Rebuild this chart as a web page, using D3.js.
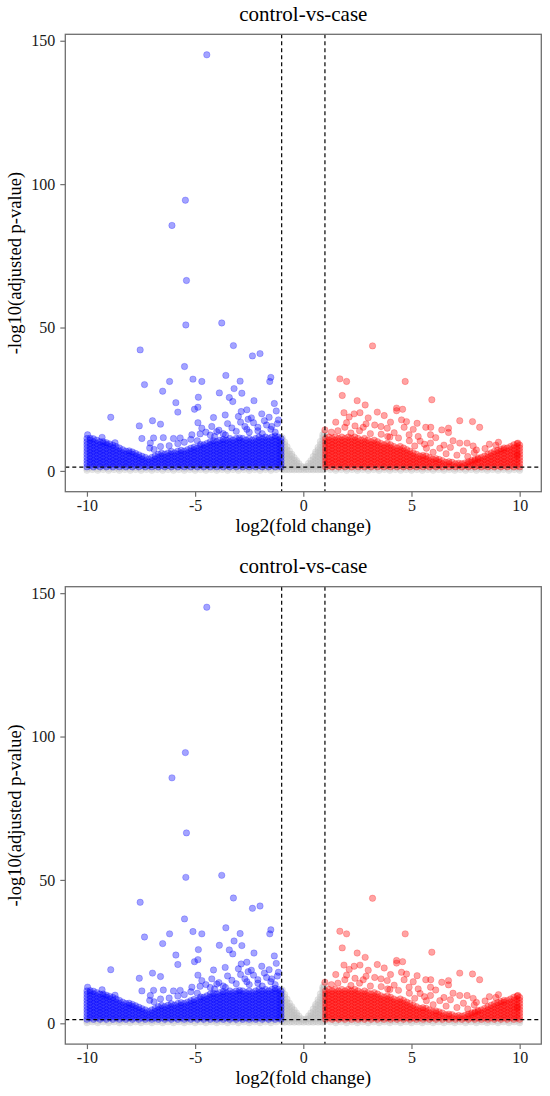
<!DOCTYPE html>
<html>
<head>
<meta charset="utf-8">
<script src="https://cdn.jsdelivr.net/npm/d3@7/dist/d3.min.js"></script>
<style>
  body { margin: 0; background: #fff; }
  svg text { font-family: "Liberation Serif", "Times New Roman", "DejaVu Serif", serif; }
</style>
</head>
<body>
<div id="chart"></div>
<script>
// text + ticks
var plotTitle = "control-vs-case";
var xTitle = "log2(fold change)";
var yTitle = "-log10(adjusted p-value)";
var xTicks = [-10, -5, 0, 5, 10];
var yTicks = [0, 50, 100, 150];
var fcCut = [-1, 1];
var padjCut = 1.3;

var serifFont = "'Liberation Serif', 'Times New Roman', 'DejaVu Serif', serif";

// single points (log2FC, -log10 padj)
var downPoints = [
  [-4.46,145.1],[-5.45,94.4],[-6.07,85.6],[-5.40,66.4],[-5.43,50.9],[-3.77,51.6],[-3.23,43.7],
  [-7.54,42.2],[-2.35,40.1],[-2.0,40.9],[-5.49,36.4],[-7.34,30.1],[-6.18,31.2],[-5.1,32.0],
  [-4.69,31.2],[-3.58,33.3],[-2.92,31.3],[-1.5,32.6],[-1.55,31.2],[-6.5,27.8],[-3.88,27.2],
  [-3.2,28.7],[-2.84,27.1],[-4.85,25.7],[-5.89,23.8],[-5.03,21.5],[-4.87,22.2],[-5.8,20.5],
  [-2.28,24.5],[-3.42,25.6],[-3.26,24.2],[-1.34,23.5],[-1.25,20.9],[-8.9,18.7],[-7.58,15.7],
  [-6.97,17.5],[-6.6,16.3],[-4.87,16.8],[-4.15,18.6],[-3.61,19.5],[-2.87,20.7],[-2.61,21.3],
  [-2.55,18.0],[-1.92,19.9],[-1.58,18.7],[-1.15,17.8],[-7.46,11.3],[-6.92,11.5],[-6.47,11.6],
  [-6.0,11.3],[-5.69,11.5],[-7.07,9.7],[-5.15,12.6],[-4.77,12.9],[-4.69,14.9],[-4.23,15.5],
  [-4.0,13.7],[-2.61,14.5],[-2.1,15.2],[-1.46,15.5],
  [-4.5,13.5],[-4.3,12.5],[-3.9,14.2],[-3.7,13.0],[-3.5,16.5],[-3.3,15.0],[-3.1,13.8],
  [-2.9,17.0],[-2.7,15.5],[-2.5,13.5],[-2.3,16.8],[-2.1,14.0],[-1.9,13.0],[-1.7,16.0],
  [-1.5,14.5],[-1.3,13.5],[-1.2,16.5],[-3.0,19.0],[-2.4,18.5],[-1.8,17.5],[-3.6,12.5],
  [-4.1,12.0],[-5.5,10.0],[-5.8,9.5],[-6.2,8.8],[-6.6,8.5],[-7.1,8.0],[-5.2,11.0],
  [-4.9,10.5],[-6.9,7.5],[-8.7,9.8],[-9.3,11.7],[-9.97,12.6]
];

var upPoints = [
  [3.2,43.6],[1.69,32.1],[2.0,31.2],[4.71,31.2],[1.8,26.3],[2.49,24.5],[2.86,23.0],[5.94,24.8],
  [1.88,20.3],[2.35,19.9],[2.62,20.3],[3.42,20.5],[4.31,21.9],[4.59,21.5],[4.31,21.0],[3.74,19.3],
  [2.12,18.8],[3.0,18.5],[4.03,17.0],[4.54,17.8],[4.77,17.2],[5.26,16.6],[7.23,17.5],[7.82,17.2],
  [8.15,15.2],[1.0,14.3],[1.92,15.2],[2.39,15.7],[2.77,15.2],[3.59,15.5],[3.88,14.9],[4.66,15.2],
  [5.08,14.5],[5.66,15.2],[5.89,15.2],[6.4,14.3],[6.71,14.9],[6.71,13.4],[4.89,12.6],[5.31,12.0],
  [5.88,12.6],[6.12,11.6],[6.92,10.5],[7.23,9.7],[7.57,9.7],[7.85,8.7],[8.0,7.3],[5.88,9.7],
  [5.15,8.7],[5.69,7.9],[6.31,7.9],[9.02,10.0],[9.92,9.7],[9.89,5.6],
  [1.3,13.5],[1.6,14.0],[2.2,13.2],[2.6,14.0],[3.1,13.0],[3.3,16.0],[3.6,12.8],[4.2,13.3],
  [4.4,11.5],[4.9,10.5],[5.4,10.4],[6.5,9.0],[6.8,8.2],[7.4,7.0],[7.9,6.4],[8.4,7.8],
  [8.6,9.3],[8.9,9.0],[3.9,12.0],[2.9,16.4],[1.5,17.0],[2.0,16.8],[4.0,11.8],[5.6,9.3],
  [6.0,6.5],[6.6,6.0],[7.1,5.5],[7.6,5.0]
];

// packed part of each cloud: [log2FC, [-log10 padj values at that fold change]]
var downCloud = [
  [-10.00,[1.4,2.5,3.6,4.7,5.8,6.9,8.0,9.1,10.2,11.3]],
  [-9.85,[1.9,3.0,4.1,5.2,6.3,7.4,8.5,9.6,10.7,11.4]],
  [-9.70,[1.4,2.5,3.6,4.7,5.8,6.9,8.0,9.1,10.2,11.2]],
  [-9.55,[1.9,3.0,4.1,5.2,6.3,7.4,8.5,9.6,10.7]],
  [-9.40,[1.4,2.5,3.6,4.7,5.8,6.9,8.0,9.1,10.2]],
  [-9.25,[1.9,3.0,4.1,5.2,6.3,7.4,8.5,9.6,10.2]],
  [-9.10,[1.4,2.5,3.6,4.7,5.8,6.9,8.0,9.1,9.8]],
  [-8.95,[1.9,3.0,4.1,5.2,6.3,7.4,8.5,9.4]],
  [-8.80,[1.4,2.5,3.6,4.7,5.8,6.9,8.0,9.0]],
  [-8.65,[1.9,3.0,4.1,5.2,6.3,7.4,8.5]],
  [-8.50,[1.4,2.5,3.6,4.7,5.8,6.9,8.0]],
  [-8.35,[1.9,3.0,4.1,5.2,6.3,7.4]],
  [-8.20,[1.4,2.5,3.6,4.7,5.8,6.9]],
  [-8.05,[1.9,3.0,4.1,5.2,6.3,7.0]],
  [-7.90,[1.4,2.5,3.6,4.7,5.8,6.6]],
  [-7.75,[1.9,3.0,4.1,5.2,6.1]],
  [-7.60,[1.4,2.5,3.6,4.7,5.6]],
  [-7.45,[1.9,3.0,4.1,5.1]],
  [-7.30,[1.4,2.5,3.6,4.7]],
  [-7.15,[1.9,3.0,4.1]],
  [-7.00,[1.4,2.5,3.6,4.7]],
  [-6.85,[1.9,3.0,4.1,5.2]],
  [-6.70,[1.4,2.5,3.6,4.7,5.8]],
  [-6.55,[1.9,3.0,4.1,5.2,6.2]],
  [-6.40,[1.4,2.5,3.6,4.7,5.8]],
  [-6.25,[1.9,3.0,4.1,5.2,6.3]],
  [-6.10,[1.4,2.5,3.6,4.7,5.8,6.8]],
  [-5.95,[1.9,3.0,4.1,5.2,6.3]],
  [-5.80,[1.4,2.5,3.6,4.7,5.8,6.9]],
  [-5.65,[1.9,3.0,4.1,5.2,6.3,7.2]],
  [-5.50,[1.4,2.5,3.6,4.7,5.8,6.9]],
  [-5.35,[1.9,3.0,4.1,5.2,6.3,7.4]],
  [-5.20,[1.4,2.5,3.6,4.7,5.8,6.9,7.9]],
  [-5.05,[1.9,3.0,4.1,5.2,6.3,7.4,8.3]],
  [-4.90,[1.4,2.5,3.6,4.7,5.8,6.9,8.0]],
  [-4.75,[1.9,3.0,4.1,5.2,6.3,7.4,8.5,9.2]],
  [-4.60,[1.4,2.5,3.6,4.7,5.8,6.9,8.0,9.1]],
  [-4.45,[1.9,3.0,4.1,5.2,6.3,7.4,8.5,9.6]],
  [-4.30,[1.4,2.5,3.6,4.7,5.8,6.9,8.0,9.1,10.2]],
  [-4.15,[1.9,3.0,4.1,5.2,6.3,7.4,8.5,9.6,10.5]],
  [-4.00,[1.4,2.5,3.6,4.7,5.8,6.9,8.0,9.1,10.2]],
  [-3.85,[1.9,3.0,4.1,5.2,6.3,7.4,8.5,9.6,10.7]],
  [-3.70,[1.4,2.5,3.6,4.7,5.8,6.9,8.0,9.1,10.2,11.0]],
  [-3.55,[1.9,3.0,4.1,5.2,6.3,7.4,8.5,9.6,10.7]],
  [-3.40,[1.4,2.5,3.6,4.7,5.8,6.9,8.0,9.1,10.2,11.3]],
  [-3.25,[1.9,3.0,4.1,5.2,6.3,7.4,8.5,9.6,10.7]],
  [-3.10,[1.4,2.5,3.6,4.7,5.8,6.9,8.0,9.1,10.2,11.3]],
  [-2.95,[1.9,3.0,4.1,5.2,6.3,7.4,8.5,9.6,10.7,11.5]],
  [-2.80,[1.4,2.5,3.6,4.7,5.8,6.9,8.0,9.1,10.2,11.3]],
  [-2.65,[1.9,3.0,4.1,5.2,6.3,7.4,8.5,9.6,10.7]],
  [-2.50,[1.4,2.5,3.6,4.7,5.8,6.9,8.0,9.1,10.2,11.3]],
  [-2.35,[1.9,3.0,4.1,5.2,6.3,7.4,8.5,9.6,10.7]],
  [-2.20,[1.4,2.5,3.6,4.7,5.8,6.9,8.0,9.1,10.2,11.3]],
  [-2.05,[1.9,3.0,4.1,5.2,6.3,7.4,8.5,9.6,10.7,11.8]],
  [-1.90,[1.4,2.5,3.6,4.7,5.8,6.9,8.0,9.1,10.2,11.3]],
  [-1.75,[1.9,3.0,4.1,5.2,6.3,7.4,8.5,9.6,10.7,11.8]],
  [-1.60,[1.4,2.5,3.6,4.7,5.8,6.9,8.0,9.1,10.2,11.3]],
  [-1.45,[1.9,3.0,4.1,5.2,6.3,7.4,8.5,9.6,10.7,11.8]],
  [-1.30,[1.4,2.5,3.6,4.7,5.8,6.9,8.0,9.1,10.2,11.3,12.2]],
  [-1.15,[1.9,3.0,4.1,5.2,6.3,7.4,8.5,9.6,10.7,11.8]],
  [-1.03,[1.4,2.5,3.6,4.7,5.8,6.9,8.0,9.1,10.2,11.3]]
];

var upCloud = [
  [1.03,[1.4,2.5,3.6,4.7,5.8,6.9,8.0,9.1,10.2,11.3]],
  [1.18,[1.9,3.0,4.1,5.2,6.3,7.4,8.5,9.6,10.7,11.8]],
  [1.33,[1.4,2.5,3.6,4.7,5.8,6.9,8.0,9.1,10.2,11.3]],
  [1.48,[1.9,3.0,4.1,5.2,6.3,7.4,8.5,9.6,10.7,11.8]],
  [1.63,[1.4,2.5,3.6,4.7,5.8,6.9,8.0,9.1,10.2,11.3]],
  [1.78,[1.9,3.0,4.1,5.2,6.3,7.4,8.5,9.6,10.7,11.8]],
  [1.93,[1.4,2.5,3.6,4.7,5.8,6.9,8.0,9.1,10.2,11.3]],
  [2.08,[1.9,3.0,4.1,5.2,6.3,7.4,8.5,9.6,10.7,11.8]],
  [2.23,[1.4,2.5,3.6,4.7,5.8,6.9,8.0,9.1,10.2,11.3]],
  [2.38,[1.9,3.0,4.1,5.2,6.3,7.4,8.5,9.6,10.7,11.8]],
  [2.53,[1.4,2.5,3.6,4.7,5.8,6.9,8.0,9.1,10.2,11.3]],
  [2.68,[1.9,3.0,4.1,5.2,6.3,7.4,8.5,9.6,10.7]],
  [2.83,[1.4,2.5,3.6,4.7,5.8,6.9,8.0,9.1,10.2,11.3]],
  [2.98,[1.9,3.0,4.1,5.2,6.3,7.4,8.5,9.6,10.7]],
  [3.13,[1.4,2.5,3.6,4.7,5.8,6.9,8.0,9.1,10.2]],
  [3.28,[1.9,3.0,4.1,5.2,6.3,7.4,8.5,9.6,10.7]],
  [3.43,[1.4,2.5,3.6,4.7,5.8,6.9,8.0,9.1,10.2]],
  [3.58,[1.9,3.0,4.1,5.2,6.3,7.4,8.5,9.6]],
  [3.73,[1.4,2.5,3.6,4.7,5.8,6.9,8.0,9.1]],
  [3.88,[1.9,3.0,4.1,5.2,6.3,7.4,8.5,9.6]],
  [4.03,[1.4,2.5,3.6,4.7,5.8,6.9,8.0,9.1]],
  [4.18,[1.9,3.0,4.1,5.2,6.3,7.4,8.5]],
  [4.33,[1.4,2.5,3.6,4.7,5.8,6.9,8.0]],
  [4.48,[1.9,3.0,4.1,5.2,6.3,7.4,8.5]],
  [4.63,[1.4,2.5,3.6,4.7,5.8,6.9,8.0]],
  [4.78,[1.9,3.0,4.1,5.2,6.3,7.4]],
  [4.93,[1.4,2.5,3.6,4.7,5.8,6.9]],
  [5.08,[1.9,3.0,4.1,5.2,6.3]],
  [5.23,[1.4,2.5,3.6,4.7,5.8]],
  [5.38,[1.9,3.0,4.1,5.2]],
  [5.53,[1.4,2.5,3.6,4.7,5.4]],
  [5.68,[1.9,3.0,4.1,5.2]],
  [5.83,[1.4,2.5,3.6,4.7]],
  [5.98,[1.9,3.0,4.1]],
  [6.13,[1.4,2.5,3.6,4.3]],
  [6.28,[1.9,3.0,4.0]],
  [6.43,[1.4,2.5,3.6]],
  [6.58,[1.9,3.0]],
  [6.73,[1.4,2.5,3.2]],
  [6.88,[1.9,3.0]],
  [7.03,[1.4,2.5]],
  [7.18,[1.9,2.7]],
  [7.33,[1.4,2.5]],
  [7.48,[1.9,2.8]],
  [7.63,[1.4,2.5,3.2]],
  [7.78,[1.9,3.0,3.6]],
  [7.93,[1.4,2.5,3.6,4.0]],
  [8.08,[1.9,3.0,4.1,4.5]],
  [8.23,[1.4,2.5,3.6,4.7]],
  [8.38,[1.9,3.0,4.1,5.2]],
  [8.53,[1.4,2.5,3.6,4.7,5.8]],
  [8.68,[1.9,3.0,4.1,5.2,6.3]],
  [8.83,[1.4,2.5,3.6,4.7,5.8,6.8]],
  [8.98,[1.9,3.0,4.1,5.2,6.3,7.2]],
  [9.13,[1.4,2.5,3.6,4.7,5.8,6.9,7.6]],
  [9.28,[1.9,3.0,4.1,5.2,6.3,7.4,8.0]],
  [9.43,[1.4,2.5,3.6,4.7,5.8,6.9,8.0]],
  [9.58,[1.9,3.0,4.1,5.2,6.3,7.4,8.5]],
  [9.73,[1.4,2.5,3.6,4.7,5.8,6.9,8.0,9.1]],
  [9.88,[1.9,3.0,4.1,5.2,6.3,7.4,8.5,9.5]],
  [10.00,[1.4,2.5,3.6,4.7,5.8,6.9,8.0,9.0]]
];

// not significant: the band under the cutoff and the dip around zero
var nsCloud = [
  [-10.0,[0.2,0.8]],[-9.75,[0.5,1.1]],[-9.5,[0.2,0.8]],[-9.25,[0.5,1.1]],[-9.0,[0.2,0.8]],
  [-8.75,[0.5,1.1]],[-8.5,[0.2,0.8]],[-8.25,[0.5,1.1]],[-8.0,[0.2,0.8]],[-7.75,[0.5,1.1]],
  [-7.5,[0.2,0.8]],[-7.25,[0.5,1.1]],[-7.0,[0.2,0.8]],[-6.75,[0.5,1.1]],[-6.5,[0.2,0.8]],
  [-6.25,[0.5,1.1]],[-6.0,[0.2,0.8]],[-5.75,[0.5,1.1]],[-5.5,[0.2,0.8]],[-5.25,[0.5,1.1]],
  [-5.0,[0.2,0.8]],[-4.75,[0.5,1.1]],[-4.5,[0.2,0.8]],[-4.25,[0.5,1.1]],[-4.0,[0.2,0.8]],
  [-3.75,[0.5,1.1]],[-3.5,[0.2,0.8]],[-3.25,[0.5,1.1]],[-3.0,[0.2,0.8]],[-2.75,[0.5,1.1]],
  [-2.5,[0.2,0.8]],[-2.25,[0.5,1.1]],[-2.0,[0.2,0.8]],[-1.75,[0.5,1.1]],[-1.5,[0.2,0.8]],
  [-1.25,[0.5,1.1]],[-0.97,[0.5,1.0,2.0,3.1,4.2,5.3,6.4,7.5,8.6,9.7,10.8,11.6]],
  [-0.86,[0.4,1.5,2.6,3.7,4.8,5.9,7.0,8.1,9.2,10.1]],[-0.75,[0.6,1.8,2.9,4.0,5.1,6.2,7.3,8.4]],
  [-0.64,[0.4,1.5,2.6,3.7,4.8,5.9,7.0]],[-0.53,[0.6,1.8,2.9,4.0,5.1,5.8]],
  [-0.42,[0.4,1.5,2.6,3.7,4.6]],[-0.31,[0.6,1.8,2.9,3.6]],[-0.20,[0.4,1.5,2.5]],
  [-0.09,[0.6,1.6]],[0.02,[0.4,1.2]],[0.13,[0.6,1.5]],[0.24,[0.4,1.6,2.6]],
  [0.35,[0.6,1.5,2.6,3.6]],[0.46,[0.4,1.8,2.9,4.0,5.0]],[0.57,[0.6,1.5,2.6,3.7,4.8,5.9,6.6]],
  [0.68,[0.4,1.8,2.9,4.0,5.1,6.2,7.3,8.2]],[0.79,[0.6,1.5,2.6,3.7,4.8,5.9,7.0,8.1,9.2,10.3]],
  [0.90,[0.4,1.8,2.9,4.0,5.1,6.2,7.3,8.4,9.5,10.6,11.7,12.6]],
  [0.97,[0.6,1.5,2.6,3.7,4.8,5.9,7.0,8.1,9.2,10.3,11.4,12.5,13.3]],
  [1.25,[0.5,1.1]],[1.5,[0.2,0.8]],[1.75,[0.5,1.1]],[2.0,[0.2,0.8]],[2.25,[0.5,1.1]],
  [2.5,[0.2,0.8]],[2.75,[0.5,1.1]],[3.0,[0.2,0.8]],[3.25,[0.5,1.1]],[3.5,[0.2,0.8]],
  [3.75,[0.5,1.1]],[4.0,[0.2,0.8]],[4.25,[0.5,1.1]],[4.5,[0.2,0.8]],[4.75,[0.5,1.1]],
  [5.0,[0.2,0.8]],[5.25,[0.5,1.1]],[5.5,[0.2,0.8]],[5.75,[0.5,1.1]],[6.0,[0.2,0.8]],
  [6.25,[0.5,1.1]],[6.5,[0.2,0.8]],[6.75,[0.5,1.1]],[7.0,[0.2,0.8]],[7.25,[0.5,1.1]],
  [7.5,[0.2,0.8]],[7.75,[0.5,1.1]],[8.0,[0.2,0.8]],[8.25,[0.5,1.1]],[8.5,[0.2,0.8]],
  [8.75,[0.5,1.1]],[9.0,[0.2,0.8]],[9.25,[0.5,1.1]],[9.5,[0.2,0.8]],[9.75,[0.5,1.1]],
  [10.0,[0.2,0.8]]
];

// unpack [x, [y...]] columns into points
function spread(cols) {
  var pts = [];
  cols.forEach(function(c) {
    c[1].forEach(function(v) { pts.push([c[0], v]); });
  });
  return pts;
}

var groups = [
  { pts: spread(nsCloud), color: "#BEBEBE" },
  { pts: spread(downCloud).concat(downPoints), color: "#0000FF" },
  { pts: spread(upCloud).concat(upPoints), color: "#FF0000" }
];

var svgWidth = 550;
var svgHeight = 1096;
var panelStep = 552.4;

var box = { left: 65.3, right: 541.3, top: 34.3, bottom: 491.7 };

var svg = d3.select("#chart")
  .append("svg")
  .attr("width", svgWidth)
  .attr("height", svgHeight)
  .attr("font-family", serifFont);

var xScale = d3.scaleLinear().domain([-11, 11]).range([box.left, box.right]);
var yScale = d3.scaleLinear().domain([-7.25, 152.25]).range([box.bottom, box.top]);

function drawPanel(g) {
  // points
  groups.forEach(function(grp) {
    g.append("g").selectAll("circle")
      .data(grp.pts)
      .enter()
      .append("circle")
      .attr("cx", d => xScale(d[0]))
      .attr("cy", d => yScale(d[1]))
      .attr("r", 3.2)
      .attr("fill", grp.color)
      .attr("fill-opacity", 0.36)
      .attr("stroke", grp.color)
      .attr("stroke-opacity", 0.25)
      .attr("stroke-width", 0.9);
  });

  // cutoff lines
  g.selectAll(".vcut")
    .data(fcCut)
    .enter()
    .append("line")
    .attr("x1", d => xScale(d))
    .attr("x2", d => xScale(d))
    .attr("y1", box.top)
    .attr("y2", box.bottom)
    .attr("stroke", "#000")
    .attr("stroke-width", 1.2)
    .attr("stroke-dasharray", "4,3");

  g.append("line")
    .attr("x1", box.left)
    .attr("x2", box.right)
    .attr("y1", yScale(padjCut))
    .attr("y2", yScale(padjCut))
    .attr("stroke", "#000")
    .attr("stroke-width", 1.2)
    .attr("stroke-dasharray", "4,3");

  // frame
  g.append("rect")
    .attr("x", box.left)
    .attr("y", box.top)
    .attr("width", box.right - box.left)
    .attr("height", box.bottom - box.top)
    .attr("fill", "none")
    .attr("stroke", "#6e6e6e")
    .attr("stroke-width", 1.3);

  // axes
  var xAxis = g.append("g")
    .attr("transform", `translate(0, ${box.bottom})`)
    .call(d3.axisBottom(xScale).tickValues(xTicks).tickSize(5).tickPadding(3).tickFormat(d => String(d)));
  var yAxis = g.append("g")
    .attr("transform", `translate(${box.left}, 0)`)
    .call(d3.axisLeft(yScale).tickValues(yTicks).tickSize(5).tickPadding(5).tickFormat(d => String(d)));

  [xAxis, yAxis].forEach(function(ax) {
    ax.attr("font-family", serifFont).attr("font-size", 16);
    ax.select(".domain").remove();
    ax.selectAll(".tick line").attr("stroke", "#6e6e6e").attr("stroke-width", 1.2);
    ax.selectAll(".tick text").attr("fill", "#1a1a1a");
  });

  // titles
  g.append("text")
    .attr("x", (box.left + box.right) / 2)
    .attr("y", box.top - 13.3)
    .attr("text-anchor", "middle")
    .attr("fill", "#000")
    .attr("font-size", 21)
    .text(plotTitle);

  g.append("text")
    .attr("x", (box.left + box.right) / 2)
    .attr("y", box.bottom + 40)
    .attr("text-anchor", "middle")
    .attr("fill", "#000")
    .attr("font-size", 19)
    .text(xTitle);

  g.append("text")
    .attr("transform", "rotate(-90)")
    .attr("x", -(box.top + box.bottom) / 2)
    .attr("y", 21)
    .attr("text-anchor", "middle")
    .attr("fill", "#000")
    .attr("font-size", 18.5)
    .text(yTitle);
}

[0, 1].forEach(function(i) {
  var g = svg.append("g").attr("transform", `translate(0, ${i * panelStep})`);
  drawPanel(g);
});
</script>
</body>
</html>
